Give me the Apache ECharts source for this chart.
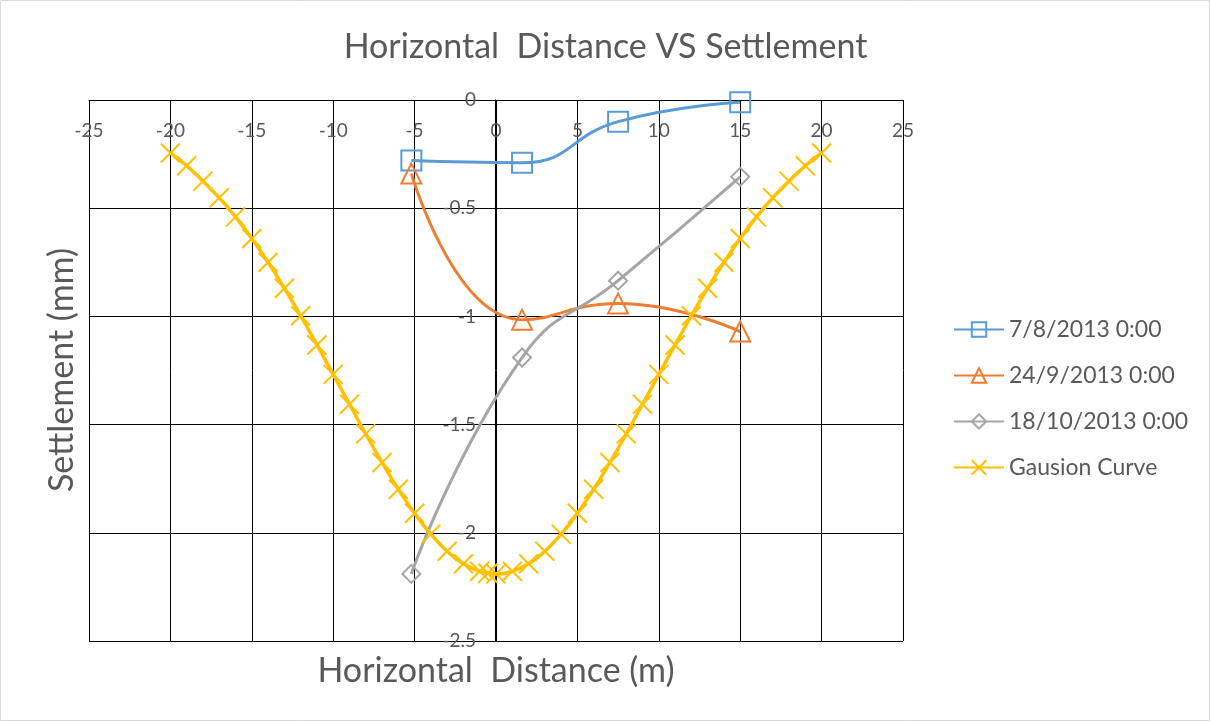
<!DOCTYPE html>
<html>
<head>
<meta charset="utf-8">
<script src="https://cdn.jsdelivr.net/npm/echarts@6/dist/echarts.min.js"></script>
<style>
html,body{margin:0;padding:0;background:#fff;}
#chart{width:1211px;height:722px;}
</style>
</head>
<body>
<div id="chart"></div>
<script>
// ---- data ----
const seriesNames = ['7/8/2013 0:00', '24/9/2013 0:00', '18/10/2013 0:00', 'Gausion Curve'];
const surveyX = [-5.2, 1.6, 7.5, 15];
const settleAug = [-0.28, -0.29, -0.10, -0.01];
const settleSep = [-0.34, -1.015, -0.94, -1.07];
const settleOct = [-2.19, -1.19, -0.835, -0.355];
const gaussX = [-20, -19, -18, -17, -16, -15, -14, -13, -12, -11, -10, -9, -8, -7, -6, -5, -4, -3, -2, -1, -0.5, 0,
                1, 2, 3, 4, 5, 6, 7, 8, 9, 10, 11, 12, 13, 14, 15, 16, 17, 18, 19, 20];
const gaussY = [-0.245, -0.304, -0.375, -0.452, -0.540, -0.640, -0.750, -0.870, -0.997, -1.132, -1.268, -1.406, -1.543, -1.675, -1.799, -1.910, -2.006, -2.085, -2.143, -2.178, -2.187, -2.19,
                -2.178, -2.143, -2.085, -2.006, -1.910, -1.799, -1.675, -1.543, -1.406, -1.268, -1.132, -0.997, -0.870, -0.750, -0.640, -0.540, -0.452, -0.375, -0.304, -0.245];
const xTicks = {min: -25, max: 25, interval: 5};
const yTicks = {min: -2.5, max: 0, interval: 0.5};
const titleText = 'Horizontal  Distance VS Settlement';
const xTitle = 'Horizontal  Distance (m)';
const yTitle = 'Settlement (mm)';

function pairs(xs, ys) { return xs.map((x, i) => [x, ys[i]]); }

const FONT = 'Lato';
const TXT = '#595959';
const colors = ['#5B9BD5', '#ED7D31', '#A5A5A5', '#FFC000'];

const chart = echarts.init(document.getElementById('chart'), null, {renderer: 'canvas'});
const option = {
  animation: false,
  backgroundColor: '#fff',
  textStyle: {fontFamily: FONT},
  title: {
    text: titleText, left: 'center', top: 25,
    textStyle: {fontFamily: FONT, fontSize: 34, fontWeight: 'normal', color: TXT}
  },
  grid: {left: 89, right: 308, top: 100, bottom: 81, containLabel: false},
  legend: {
    orient: 'vertical', left: 953, top: 318, padding: 0,
    itemWidth: 50, itemHeight: 18, itemGap: 23,
    textStyle: {fontFamily: FONT, fontSize: 23, color: TXT},
    data: seriesNames
  },
  xAxis: {
    type: 'value', position: 'top',
    min: xTicks.min, max: xTicks.max, interval: xTicks.interval,
    axisLine: {show: true, onZero: false, lineStyle: {color: '#000', width: 1}},
    axisTick: {show: false},
    axisLabel: {inside: true, margin: 21, fontFamily: FONT, fontSize: 19, color: TXT},
    splitLine: {show: true, lineStyle: {color: '#000', width: 1}}
  },
  yAxis: {
    type: 'value', position: 'left', offset: -406,
    min: yTicks.min, max: yTicks.max, interval: yTicks.interval,
    axisLine: {show: true, onZero: false, lineStyle: {color: '#000', width: 1}},
    axisTick: {show: false},
    axisLabel: {margin: 19, fontFamily: FONT, fontSize: 19, color: TXT},
    splitLine: {show: true, lineStyle: {color: '#000', width: 1}}
  },
  graphic: [
    {type: 'rect', shape: {x: 0.5, y: 0.5, width: 1209, height: 720}, style: {fill: 'none', stroke: '#D9D9D9', lineWidth: 1}, silent: true},
    {type: 'text', x: 496, y: 671, style: {text: xTitle, fontFamily: FONT, fontSize: 34, fill: TXT, align: 'center', verticalAlign: 'middle'}},
    {type: 'text', x: 62, y: 370, rotation: Math.PI / 2, style: {text: yTitle, fontFamily: FONT, fontSize: 34, fill: TXT, align: 'center', verticalAlign: 'middle'}}
  ],
  series: [
    {
      name: seriesNames[0], type: 'line', smooth: 0.5,
      data: pairs(surveyX, settleAug),
      symbol: 'rect', symbolSize: 20,
      lineStyle: {color: colors[0], width: 3},
      itemStyle: {color: 'rgba(255,255,255,0)', borderColor: colors[0], borderWidth: 2}
    },
    {
      name: seriesNames[1], type: 'line', smooth: 0.5,
      data: pairs(surveyX, settleSep),
      symbol: 'triangle', symbolSize: 20,
      lineStyle: {color: colors[1], width: 3},
      itemStyle: {color: 'rgba(255,255,255,0)', borderColor: colors[1], borderWidth: 2}
    },
    {
      name: seriesNames[2], type: 'line', smooth: 0.5,
      data: pairs(surveyX, settleOct),
      symbol: 'diamond', symbolSize: 18,
      lineStyle: {color: colors[2], width: 3},
      itemStyle: {color: 'rgba(255,255,255,0)', borderColor: colors[2], borderWidth: 2}
    },
    {
      name: seriesNames[3], type: 'line', smooth: 0.5,
      data: pairs(gaussX, gaussY),
      symbol: 'path://M0,0L20,20M20,0L0,20', symbolSize: 19,
      lineStyle: {color: colors[3], width: 3.5},
      itemStyle: {color: colors[3], borderColor: colors[3], borderWidth: 2}
    }
  ]
};
chart.setOption(option);
</script>
</body>
</html>
